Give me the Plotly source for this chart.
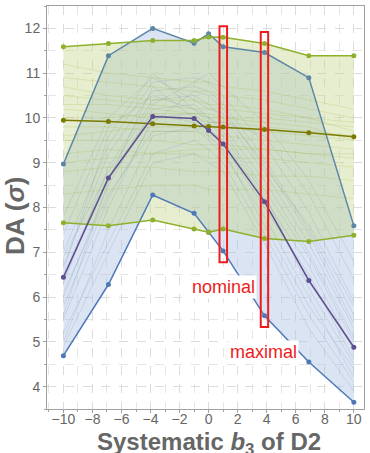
import plotly.graph_objects as go

b3 = [-10, -6.9, -3.85, -1, 0, 1, 3.85, 6.9, 10]

max_upper = [8.97, 11.39, 12.0, 11.67, 11.88, 11.59, 11.46, 10.90, 7.59]
max_lower = [4.69, 6.28, 8.28, 7.87, 7.45, 7.03, 5.58, 4.55, 3.65]
max_mean = [6.44, 8.66, 10.03, 9.99, 9.72, 9.42, 8.13, 6.37, 4.88]

nom_upper = [11.59, 11.66, 11.73, 11.73, 11.81, 11.80, 11.66, 11.39, 11.39]
nom_lower = [7.66, 7.59, 7.72, 7.52, 7.45, 7.52, 7.31, 7.24, 7.38]
nom_mean = [9.95, 9.92, 9.87, 9.82, 9.81, 9.80, 9.74, 9.67, 9.58]

max_seeds = [
    [5.0, 7.5, 9.6, 9.8, 9.5, 9.2, 7.8, 6.0, 4.2],
    [5.5, 8.0, 10.0, 10.1, 9.8, 9.4, 8.0, 6.5, 4.6],
    [6.0, 8.5, 10.2, 10.3, 10.0, 9.7, 8.4, 6.9, 5.0],
    [6.3, 8.9, 10.4, 10.5, 10.3, 10.0, 8.8, 7.2, 5.3],
    [6.7, 9.2, 10.6, 10.7, 10.6, 10.3, 9.1, 7.5, 5.6],
    [7.0, 9.4, 10.8, 10.9, 10.8, 10.5, 9.4, 7.9, 5.9],
    [5.2, 7.2, 9.2, 9.5, 9.3, 9.0, 7.4, 5.6, 4.1],
    [7.4, 9.8, 10.5, 10.2, 10.0, 9.8, 8.6, 7.0, 5.1],
    [5.8, 8.2, 9.9, 10.6, 10.5, 10.2, 8.9, 7.6, 5.8],
    [6.5, 8.7, 10.1, 9.9, 9.6, 9.3, 7.6, 5.8, 4.4],
    [7.8, 10.0, 10.9, 10.4, 10.2, 10.1, 9.0, 7.4, 5.4],
    [6.1, 8.3, 9.7, 9.7, 9.9, 9.9, 9.6, 8.3, 6.4],
    [4.9, 7.0, 9.0, 9.2, 9.0, 8.8, 7.2, 5.3, 3.9],
    [6.9, 8.8, 10.3, 10.8, 11.0, 10.7, 9.9, 8.6, 6.8],
    [5.6, 8.6, 10.7, 10.0, 9.7, 9.5, 8.2, 6.7, 4.8],
    [6.6, 9.6, 11.0, 10.2, 9.9, 9.6, 8.3, 6.2, 4.5],
]

nom_seeds = [
    [10.9, 10.8, 10.7, 10.6, 10.6, 10.5, 10.4, 10.2, 10.0],
    [10.5, 10.4, 10.3, 10.2, 10.2, 10.2, 10.1, 10.0, 9.9],
    [10.2, 10.1, 10.0, 10.0, 9.9, 9.9, 9.8, 9.7, 9.6],
    [9.8, 9.8, 9.7, 9.7, 9.6, 9.6, 9.5, 9.4, 9.3],
    [9.5, 9.5, 9.5, 9.4, 9.4, 9.4, 9.3, 9.2, 9.1],
    [9.2, 9.3, 9.2, 9.2, 9.1, 9.1, 9.1, 9.0, 8.9],
    [11.2, 11.0, 10.9, 10.8, 10.8, 10.7, 10.6, 10.4, 10.2],
    [8.8, 8.9, 8.9, 8.8, 8.8, 8.8, 8.7, 8.7, 8.6],
    [10.0, 10.0, 10.1, 10.1, 10.0, 10.0, 10.0, 9.9, 9.8],
    [10.7, 10.5, 10.4, 10.4, 10.3, 10.3, 10.2, 10.0, 9.7],
    [9.6, 9.7, 9.8, 9.8, 9.8, 9.8, 9.7, 9.6, 9.5],
    [8.3, 8.4, 8.5, 8.5, 8.4, 8.4, 8.4, 8.3, 8.2],
    [10.3, 10.3, 10.2, 10.1, 10.1, 10.0, 9.9, 9.8, 9.5],
    [9.0, 9.1, 9.2, 9.3, 9.3, 9.3, 9.3, 9.2, 9.2],
]

x_ticks = [-10, -8, -6, -4, -2, 0, 2, 4, 6, 8, 10]
x_ticklabels = ["\u221210", "\u22128", "\u22126", "\u22124", "\u22122", "0", "2", "4", "6", "8", "10"]
y_ticks = [4, 5, 6, 7, 8, 9, 10, 11, 12]

# highlighted boxes: (x0, x1, y0, y1)
box_nominal = (0.75, 1.27, 6.78, 12.05)
box_maximal = (3.59, 4.10, 5.33, 11.92)

FONT = "Liberation Sans, Arial, sans-serif"
GREY = "#666666"

fig = go.Figure()

# bands
fig.add_trace(go.Scatter(x=b3 + b3[::-1], y=max_upper + max_lower[::-1], fill="toself",
                         fillcolor="rgba(170,190,225,0.42)", line=dict(width=0),
                         mode="lines", hoverinfo="skip", showlegend=False))
fig.add_trace(go.Scatter(x=b3 + b3[::-1], y=nom_upper + nom_lower[::-1], fill="toself",
                         fillcolor="rgba(195,212,135,0.40)", line=dict(width=0),
                         mode="lines", hoverinfo="skip", showlegend=False))

for s in max_seeds:
    fig.add_trace(go.Scatter(x=b3, y=s, mode="lines",
                             line=dict(color="rgba(100,130,165,0.30)", width=0.6),
                             hoverinfo="skip", showlegend=False))
for s in nom_seeds:
    fig.add_trace(go.Scatter(x=b3, y=s, mode="lines",
                             line=dict(color="rgba(150,180,50,0.35)", width=0.6),
                             hoverinfo="skip", showlegend=False))

def main_line(y, color):
    fig.add_trace(go.Scatter(x=b3, y=y, mode="lines+markers",
                             line=dict(color=color, width=1.5),
                             marker=dict(color=color, size=5),
                             showlegend=False))

main_line(max_upper, "#5b86a8")
main_line(max_lower, "#4f78b8")
main_line(nom_upper, "#8db12c")
main_line(nom_lower, "#8db12c")
main_line(nom_mean, "#7b7b00")
main_line(max_mean, "#5e4f90")

for (x0, x1, y0, y1) in (box_nominal, box_maximal):
    fig.add_shape(type="rect", x0=x0, x1=x1, y0=y0, y1=y1, xref="x", yref="y",
                  line=dict(color="#ee1c1c", width=2), fillcolor="rgba(0,0,0,0)")

fig.add_annotation(x=1.0, y=6.22, text="nominal", showarrow=False,
                   font=dict(color="#ee1c1c", size=18, family=FONT),
                   bgcolor="white", borderpad=1)
fig.add_annotation(x=3.81, y=4.78, text="maximal", showarrow=False,
                   font=dict(color="#ee1c1c", size=18, family=FONT),
                   bgcolor="white", borderpad=1)

# axis titles as annotations (fixed positions)
fig.add_annotation(xref="paper", yref="paper", x=0.511, y=-0.085, xanchor="center", yanchor="middle",
                   text="<b>Systematic <i>b</i><sub>3</sub> of D2</b>", showarrow=False,
                   font=dict(size=24, color=GREY, family=FONT))
fig.add_annotation(xref="paper", yref="paper", x=-0.101, y=0.479, xanchor="center", yanchor="middle",
                   text="<b>DA (<i>\u03c3</i>)</b>", showarrow=False, textangle=-90,
                   font=dict(size=26, color=GREY, family=FONT))

axis_common = dict(
    showgrid=True, gridcolor="#dcdcdc", griddash="dash", gridwidth=1,
    showline=True, linecolor="#a0a0a0", linewidth=1, mirror=True,
    ticks="outside", ticklen=3, tickcolor="#a0a0a0",
    tickfont=dict(size=14, color=GREY, family=FONT),
    zeroline=False, automargin=False,
)

fig.update_xaxes(range=[-11.13, 10.7], tickvals=x_ticks, ticktext=x_ticklabels,
                 ticklabelstandoff=-6,
                 minor=dict(dtick=1, tick0=0, showgrid=True, gridcolor="#e6e6e6", griddash="dash",
                            ticks="outside", ticklen=2, tickcolor="#a0a0a0"),
                 **axis_common)
fig.update_yaxes(range=[3.5, 12.5], tickvals=y_ticks,
                 minor=dict(dtick=0.5, tick0=0, showgrid=True, gridcolor="#e6e6e6", griddash="dash",
                            ticks="outside", ticklen=2, tickcolor="#a0a0a0"),
                 **axis_common)

fig.update_layout(width=370, height=453, margin=dict(l=47, r=6, t=6, b=44),
                  plot_bgcolor="white", paper_bgcolor="white", showlegend=False)

fig.write_html("out.html", config={"displayModeBar": False},
               post_script="document.body.style.margin='0';document.body.style.padding='0';")
